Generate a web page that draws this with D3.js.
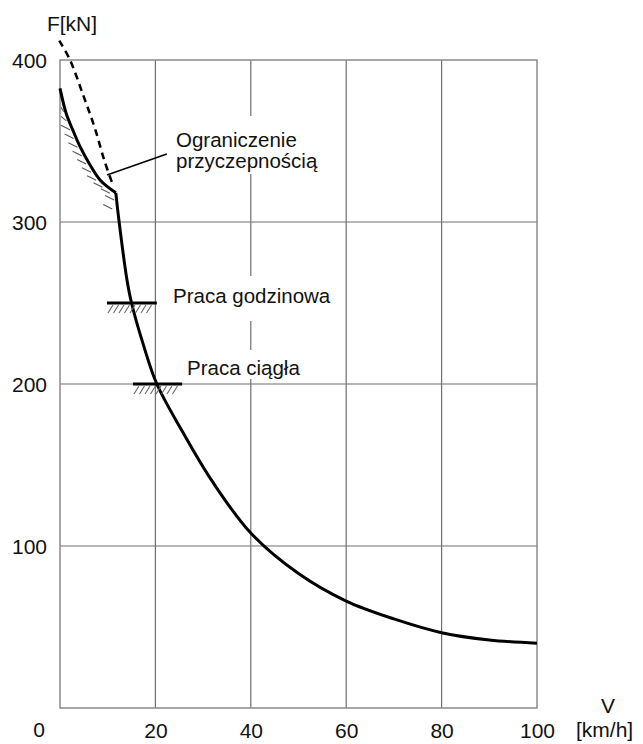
<!doctype html>
<html>
<head>
<script src="https://d3js.org/d3.v7.min.js"></script>
<style>
  body { margin: 0; background: #fff; }
  text { font-family: "Liberation Sans", Arial, sans-serif; }
</style>
</head>
<body>
<svg width="643" height="744"></svg>
<script>
// speed [km/h] vs tractive force [kN]
var xTicks = [20, 40, 60, 80, 100];
var yTicks = [100, 200, 300, 400];

// adhesion-limited part (solid, steep)
var adhesionCurve = [[0, 382.5], [1.3, 367], [2.65, 357], [4.2, 346.5], [6.15, 336], [8.4, 326], [11.7, 318]];
// main traction curve
var tractionCurve = [
    [11.7, 318], [12.4, 300], [14.0, 265], [15.0, 250], [17.5, 224], [20.3, 200],
    [25.6, 171], [31.9, 140], [40, 108], [50, 83],
    [60, 66], [70, 55], [80, 46.5], [90, 42], [100, 40]
];
// dashed continuation of the traction curve
var dashedCurve = [[-0.15, 412], [2.1, 400], [4.9, 378], [7.3, 358], [9.4, 337], [11.2, 322]];

// rating bars: [force, vStart, vEnd]
var hourRating = [250, 9.85, 20.3];
var contRating = [200, 15.3, 25.6];

var svg = d3.select("svg");

var x = d3.scaleLinear().domain([0, 100]).range([60, 537]),
    y = d3.scaleLinear().domain([0, 400]).range([708, 60]);

var gridColor = "#6f6f6f";

// grid
svg.append("g")
  .selectAll("line")
  .data(xTicks.slice(0, 4))
  .enter().append("line")
  .attr("x1", function(d) { return x(d); })
  .attr("x2", function(d) { return x(d); })
  .attr("y1", y(400)).attr("y2", y(0))
  .style("stroke", gridColor).style("stroke-width", 1.2);

svg.append("g")
  .selectAll("line")
  .data(yTicks.slice(0, 3))
  .enter().append("line")
  .attr("x1", x(0)).attr("x2", x(100))
  .attr("y1", function(d) { return y(d); })
  .attr("y2", function(d) { return y(d); })
  .style("stroke", gridColor).style("stroke-width", 1.2);

// frame
svg.append("rect")
  .attr("x", x(0)).attr("y", y(400))
  .attr("width", x(100) - x(0)).attr("height", y(0) - y(400))
  .style("fill", "none").style("stroke", "#8a8a8a").style("stroke-width", 1.5);

// labels with white boxes (they break the grid)
function label(lines, lx, ly, padTop, padBottom) {
  var g = svg.append("g");
  var r = g.append("rect").style("fill", "#fff");
  var t = g.append("text")
    .attr("x", lx).attr("y", ly)
    .style("font-size", "20.5px").style("fill", "#111");
  lines.forEach(function(s, i) {
    t.append("tspan").attr("x", lx).attr("dy", i === 0 ? 0 : 21).text(s);
  });
  var b = t.node().getBBox();
  r.attr("x", b.x - 4).attr("y", b.y - padTop)
   .attr("width", b.width + 8).attr("height", b.height + padTop + padBottom);
}
label(["Ograniczenie", "przyczepnością"], 176, 147, 12, 2);
label(["Praca godzinowa"], 173, 303, 8, 14);
label(["Praca ciągła"], 187, 375, 6, 0);

// axes labels
var yAxis = d3.axisLeft(y).tickValues(yTicks).tickSize(0).tickPadding(13);
var yg = svg.append("g").attr("transform", "translate(" + x(0) + ",0)").call(yAxis);
var xAxis = d3.axisBottom(x).tickValues(xTicks).tickSize(0).tickPadding(15);
var xg = svg.append("g").attr("transform", "translate(0," + y(0) + ")").call(xAxis);
[yg, xg].forEach(function(g) {
  g.select(".domain").remove();
  g.selectAll("text")
    .style("font-size", "21px")
    .style("font-family", "'Liberation Sans', Arial, sans-serif")
    .style("fill", "#111");
});
yg.selectAll(".tick text").attr("dy", "0.35em");

svg.append("text").attr("x", x(0) - 21).attr("y", 737)
  .attr("text-anchor", "middle").style("font-size", "21px").style("fill", "#111").text("0");
svg.append("text").attr("x", 72).attr("y", 31)
  .attr("text-anchor", "middle").style("font-size", "21px").style("fill", "#111").text("F[kN]");
svg.append("text").attr("x", 608).attr("y", 713)
  .attr("text-anchor", "middle").style("font-size", "21px").style("fill", "#111").text("V");
svg.append("text").attr("x", 576).attr("y", 737)
  .style("font-size", "21px").style("fill", "#111").text("[km/h]");

// curves
var line = d3.line()
  .x(function(d) { return x(d[0]); })
  .y(function(d) { return y(d[1]); })
  .curve(d3.curveCatmullRom.alpha(0.5));

var adhesionPath = svg.append("path")
  .datum(adhesionCurve)
  .attr("d", line)
  .style("fill", "none").style("stroke", "#000").style("stroke-width", 3);

// hatching along the adhesion limit ("\" strokes touching the curve from below-left)
var node = adhesionPath.node(), len = node.getTotalLength();
var hatch = svg.append("g").style("stroke", "#5c5c5c").style("stroke-width", 1.2);
for (var s = 20; s <= len + 14; s += 9.5) {
  var p = node.getPointAtLength(Math.min(s, len));
  var ex = p.x - 1, ey = p.y + 4;
  if (s > len) { ex -= (s - len) * 0.2; ey += (s - len) * 0.95; }
  hatch.append("line")
    .attr("x1", Math.max(x(0) + 1, ex - 9)).attr("y1", ey - 4.5)
    .attr("x2", ex).attr("y2", ey);
}

svg.append("path")
  .datum(tractionCurve)
  .attr("d", line)
  .style("fill", "none").style("stroke", "#000").style("stroke-width", 3);

svg.append("path")
  .datum(dashedCurve)
  .attr("d", line)
  .style("fill", "none").style("stroke", "#000").style("stroke-width", 2.5)
  .style("stroke-dasharray", "7,5");

// leader line to label
svg.append("line")
  .attr("x1", x(9.85)).attr("y1", y(329))
  .attr("x2", x(22.4)).attr("y2", y(342))
  .style("stroke", "#000").style("stroke-width", 1.6);

// rating bars with hatching
[hourRating, contRating].forEach(function(r) {
  var yy = y(r[0]), x0 = x(r[1]), x1 = x(r[2]);
  var hg = svg.append("g").style("stroke", "#666").style("stroke-width", 1.1);
  for (var hx = x0 + 1; hx <= x1 - 5; hx += 5.5) {
    hg.append("line")
      .attr("x1", hx).attr("y1", yy + 10)
      .attr("x2", hx + 5).attr("y2", yy + 2);
  }
  svg.append("line")
    .attr("x1", x0).attr("x2", x1)
    .attr("y1", yy).attr("y2", yy)
    .style("stroke", "#000").style("stroke-width", 2.8);
});
</script>
</body>
</html>
